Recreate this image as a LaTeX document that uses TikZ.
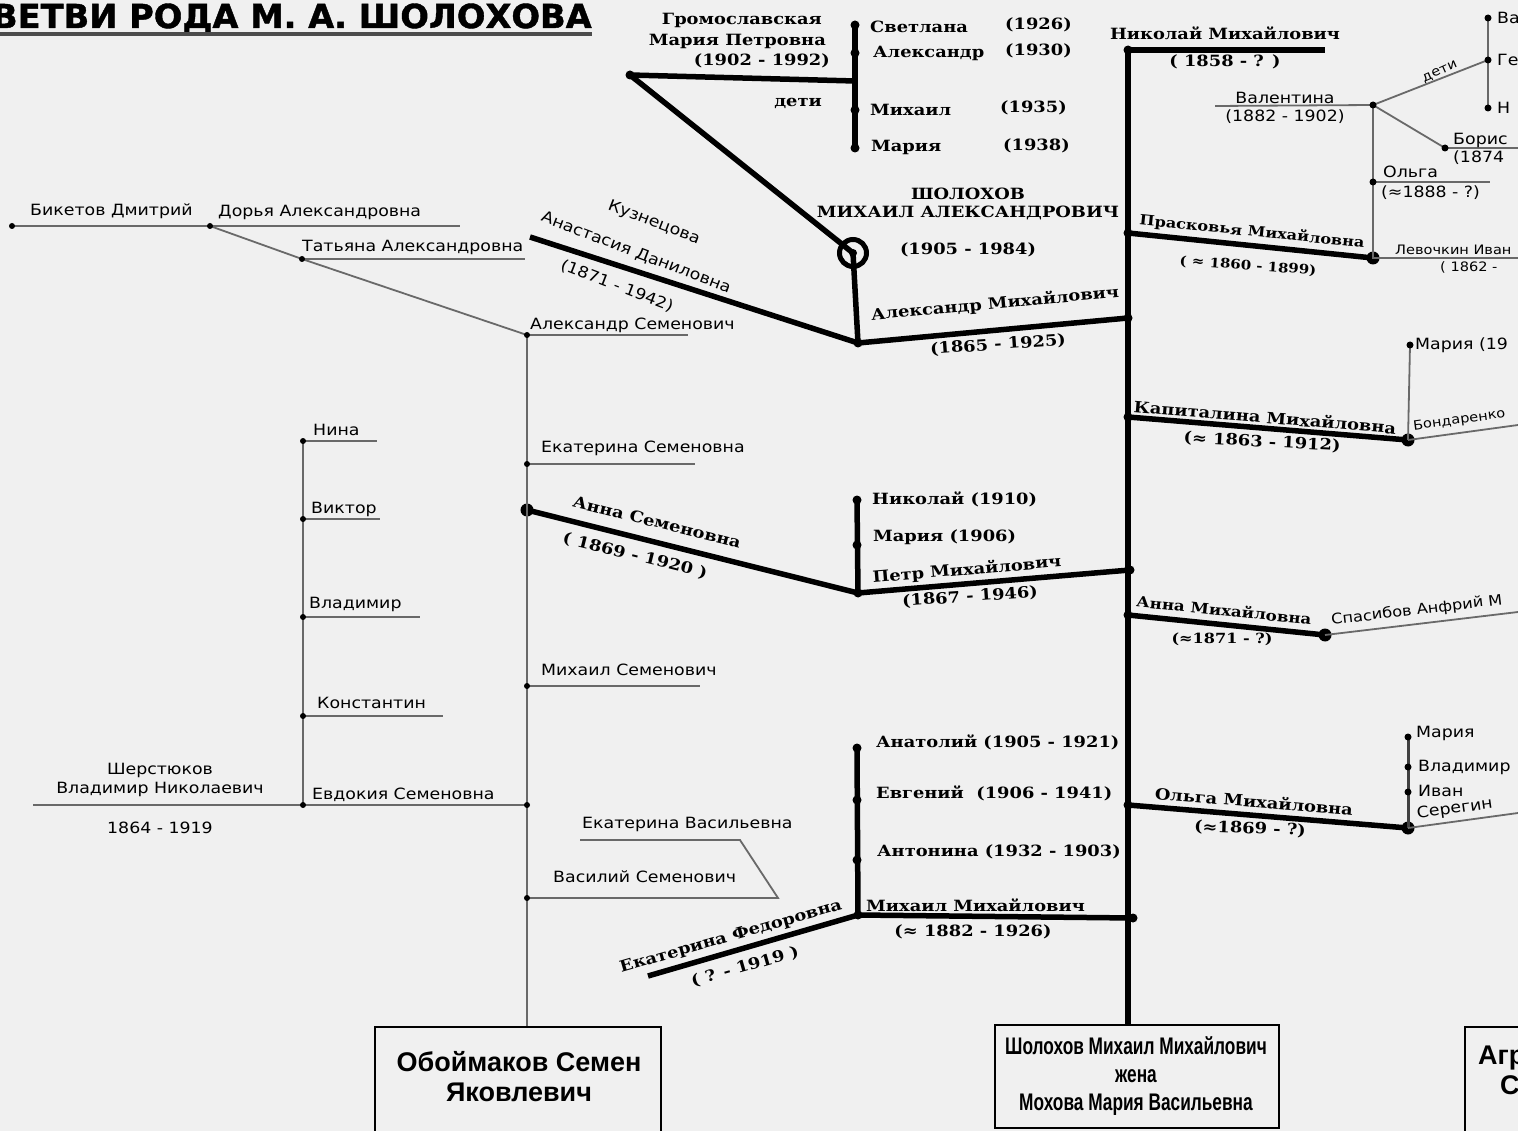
\documentclass[tikz,border=0pt]{standalone}
\usepackage{fontspec}
\setmainfont{DejaVu Serif}
\newfontfamily\srf[FakeStretch=1.15]{DejaVu Serif}
\newfontfamily\snf[FakeStretch=1.12]{DejaVu Sans}
\newfontfamily\bxf[FakeStretch=0.72]{Liberation Sans}
\newfontfamily\obf{Liberation Sans}
\newfontfamily\ttlf[FakeStretch=1.02,FakeBold=1.2]{DejaVu Sans}
\definecolor{bg}{RGB}{240,240,240}
\definecolor{thin}{RGB}{105,105,105}
\begin{document}
\begin{tikzpicture}[x=1pt,y=-1pt,
  thk/.style={line width=5.5pt},
  thn/.style={line width=1.8pt, draw=thin},
  sbs/.style={font=\srf\bfseries\fontsize{15.5}{17}\selectfont, inner sep=0pt},
  sn/.style={font=\snf\fontsize{15.5}{17}\selectfont, inner sep=0pt},
  sns/.style={font=\snf\fontsize{13}{15}\selectfont, inner sep=0pt},
  bx/.style={font=\bxf\bfseries\fontsize{24}{26}\selectfont, inner sep=0pt},
  ob/.style={font=\obf\bfseries\fontsize{27}{30}\selectfont, inner sep=0pt},
  boxln/.style={line width=2.5pt},
]
\clip (0,0) rectangle (1518,1131);
\fill[bg] (0,0) rectangle (1518,1131);

% ---------------- title
\node[anchor=base east, font=\ttlf\bfseries\fontsize{33}{36}\selectfont, inner sep=0pt] (title) at (592,28) {ВЕТВИ РОДА М. А. ШОЛОХОВА};
\coordinate (tl0) at (0,34);
\coordinate (tl1) at (592,34);
\draw[line width=3.5pt, draw=black!70] (tl0) -- (tl1);

% ---------------- coordinates Sholokhov side
\coordinate (gm) at (630,75);
\coordinate (gv) at (855,81);
\coordinate (c1) at (855,25);
\coordinate (c2) at (855,53);
\coordinate (c3) at (855,110);
\coordinate (c4) at (855,148);
\coordinate (ms) at (853,253);
\coordinate (am) at (858,343);
\coordinate (tr1) at (1128,318);
\coordinate (ku) at (530,237);
\coordinate (tTop) at (1128,50);
\coordinate (tBot) at (1128,1025);
\coordinate (nm) at (1325,50);
\coordinate (pr0) at (1128,233);
\coordinate (pr1) at (1373,258);
\coordinate (kp0) at (1128,417);
\coordinate (kp1) at (1408,440);
\coordinate (pm0) at (1130,570);
\coordinate (pm) at (858,593);
\coordinate (am0) at (1128,615);
\coordinate (am1) at (1325,635);
\coordinate (om0) at (1128,805);
\coordinate (om1) at (1408,828);
\coordinate (mm0) at (1133,918);
\coordinate (mm) at (858,915);
\coordinate (pc1) at (857,500);
\coordinate (pc2) at (857,545);
\coordinate (mc1) at (857,748);
\coordinate (mc2) at (857,800);
\coordinate (mc3) at (857,860);
\coordinate (ef) at (648,976);
\coordinate (as0) at (527,510);

% thick lines
\draw[thk] (gm) -- (gv);
\draw[thk] (c1) -- (c4);
\draw[thk] (gm) -- (ms);
\draw[thk] (ms) -- (am);
\draw[thk] (ku) -- (am) -- (tr1);
\draw[thk] (tTop) -- (tBot);
\draw[thk] (tTop) -- (nm);
\draw[thk] (pr0) -- (pr1);
\draw[thk] (kp0) -- (kp1);
\draw[thk] (as0) -- (pm) -- (pm0);
\draw[thk] (pc1) -- (pm);
\draw[thk] (am0) -- (am1);
\draw[thk] (om0) -- (om1);
\draw[thk] (ef) -- (mm) -- (mm0);
\draw[thk] (mc1) -- (mm);
\foreach \p in {gm,c1,c2,c3,c4,pc1,pc2,mc1,mc2,mc3,tTop,pr0,kp0,am0,om0,mm0,pm0,tr1,am,pm,mm}
  \fill (\p) circle (4.5);
\foreach \p in {pr1,kp1,am1,om1,as0}
  \fill (\p) circle (6.5);
\draw[line width=5pt] (ms) circle (13.5);
\fill (ms) circle (4);

% ---------------- right thin side
\coordinate (vl) at (1373,105);
\coordinate (vlL) at (1215,106);
\coordinate (dt) at (1488,60);
\coordinate (b1) at (1488,18);
\coordinate (b3) at (1488,108);
\coordinate (bo) at (1445,148);
\coordinate (boR) at (1518,148);
\coordinate (ol) at (1373,182);
\coordinate (olR) at (1490,182);
\coordinate (lvR) at (1518,258);
\coordinate (km) at (1410,345);
\coordinate (bdR) at (1518,425);
\coordinate (spR) at (1518,612);
\coordinate (oc1) at (1408,737);
\coordinate (oc2) at (1408,767);
\coordinate (oc3) at (1408,792);
\coordinate (srR) at (1518,813);

\draw[thn] (vlL) -- (vl) -- (pr1) -- (lvR);
\draw[thn] (vl) -- (dt);
\draw[thn] (b1) -- (b3);
\draw[thn] (vl) -- (bo) -- (boR);
\draw[thn] (ol) -- (olR);
\draw[thn] (kp1) -- (km);
\draw[thn] (kp1) -- (bdR);
\draw[thn] (am1) -- (spR);
\draw[thn, line width=3pt, draw=black!75] (oc1) -- (om1);
\draw[thn] (om1) -- (srR);
\foreach \p in {vl,dt,b1,b3,bo,ol,km,oc1,oc2,oc3}
  \fill (\p) circle (3.5);

% ---------------- left thin side (Obojmakov)
\coordinate (obT) at (527,335);
\coordinate (obB) at (527,1027);
\coordinate (asR) at (688,335);
\coordinate (tA) at (302,259);
\coordinate (tAR) at (525,259);
\coordinate (dA) at (210,226);
\coordinate (dAR) at (460,226);
\coordinate (bk) at (12,226);
\coordinate (es) at (527,464);
\coordinate (esR) at (695,464);
\coordinate (msm) at (527,686);
\coordinate (msR) at (700,686);
\coordinate (ev) at (527,805);
\coordinate (sh) at (33,805);
\coordinate (evj) at (303,805);
\coordinate (n1) at (303,441);
\coordinate (n1R) at (377,441);
\coordinate (v1) at (303,519);
\coordinate (v1R) at (380,519);
\coordinate (w1) at (303,617);
\coordinate (w1R) at (420,617);
\coordinate (k1) at (303,716);
\coordinate (k1R) at (443,716);
\coordinate (vs) at (527,898);
\coordinate (vsR) at (778,898);
\coordinate (ekL) at (580,840);
\coordinate (ekR) at (740,840);

\draw[thn] (obT) -- (obB);
\draw[thn] (obT) -- (asR);
\draw[thn] (obT) -- (tA) -- (dA);
\draw[thn] (tA) -- (tAR);
\draw[thn] (bk) -- (dA) -- (dAR);
\draw[thn] (es) -- (esR);
\draw[thn] (msm) -- (msR);
\draw[thn] (sh) -- (ev);
\draw[thn] (n1) -- (evj);
\draw[thn] (n1) -- (n1R);
\draw[thn] (v1) -- (v1R);
\draw[thn] (w1) -- (w1R);
\draw[thn] (k1) -- (k1R);
\draw[thn] (vs) -- (vsR) -- (ekR) -- (ekL);
\foreach \p in {obT,tA,dA,bk,es,msm,ev,evj,n1,v1,w1,k1,vs}
  \fill (\p) circle (3);

% ---------------- boxes
\draw[boxln] (375,1027) rectangle (661,1145);
\draw[boxln] (995,1025) rectangle (1279,1128);
\draw[boxln] (1465,1027) rectangle (1540,1145);
\node[ob] (obo1) at (519,1062) {Обоймаков Семен};
\node[ob] (obo2) at (519,1092) {Яковлевич};
\node[bx] (sho1) at (1136,1046) {Шолохов Михаил Михайлович};
\node[bx] (sho2) at (1136,1076) {жена};
\node[bx] (sho3) at (1136,1105) {Мохова Мария Васильевна};
\node[ob, anchor=west] (agr1) at (1478,1058) {Агр};
\node[ob, anchor=west] (agr2) at (1500,1085) {С};

% ---------------- serif texts
\node[sbs, anchor=east] (t1) at (822,20) {Громославская};
\node[sbs, anchor=east] (t2) at (826,41) {Мария Петровна};
\node[sbs, anchor=east] (t3) at (830,61) {(1902 - 1992)};
\node[sbs, anchor=east] (t4) at (822,103) {дети};
\node[sbs, anchor=west] (t5) at (870,27) {Светлана};
\node[sbs, anchor=west] (t6) at (1005,25) {(1926)};
\node[sbs, anchor=west] (t7) at (873,53) {Александр};
\node[sbs, anchor=west] (t8) at (1005,51) {(1930)};
\node[sbs, anchor=west] (t9) at (870,110) {Михаил};
\node[sbs, anchor=west] (t10) at (1000,108) {(1935)};
\node[sbs, anchor=west] (t11) at (871,147) {Мария};
\node[sbs, anchor=west] (t12) at (1003,146) {(1938)};
\node[sbs] (t13) at (968,194) {ШОЛОХОВ};
\node[sbs] (t14) at (968,213) {МИХАИЛ АЛЕКСАНДРОВИЧ};
\node[sbs] (t15) at (968,250) {(1905 - 1984)};
\node[sbs, rotate=5.3] (t16) at (995,304) {Александр Михайлович};
\node[sbs, rotate=4] (t17) at (998,345) {(1865 - 1925)};
\node[sn, rotate=-21] (t18) at (654,223) {Кузнецова};
\node[sn, rotate=-21] (t19) at (636,253) {Анастасия Даниловна};
\node[sn, rotate=-21] (t20) at (617,286) {(1871 - 1942)};
\node[sbs] (t21) at (1225,33) {Николай Михайлович};
\node[sbs] (t22) at (1225,62) {( 1858 - ? )};
\node[sbs, rotate=-5.8, font=\srf\bfseries\fontsize{14}{16}\selectfont] (t23) at (1252,232) {Прасковья Михайловна};
\node[sbs, rotate=-4, font=\srf\bfseries\fontsize{13}{15}\selectfont] (t24) at (1248,266) {( ≈ 1860 - 1899)};
\node[sbs, rotate=-4.7] (t25) at (1265,417) {Капиталина Михайловна};
\node[sbs, rotate=-3] (t26) at (1262,442) {(≈ 1863 - 1912)};
\node[sbs, anchor=west] (t27) at (872,499) {Николай (1910)};
\node[sbs, anchor=west] (t28) at (873,537) {Мария (1906)};
\node[sbs, rotate=4.8] (t29) at (967,570) {Петр Михайлович};
\node[sbs, rotate=4] (t30) at (970,597) {(1867 - 1946)};
\node[sbs, rotate=-14] (t31) at (657,522) {Анна Семеновна};
\node[sbs, rotate=-14] (t32) at (635,556) {( 1869 - 1920 )};
\node[sbs, rotate=-5.8, font=\srf\bfseries\fontsize{14.5}{16}\selectfont] (t33) at (1224,610) {Анна Михайловна};
\node[sbs, font=\srf\bfseries\fontsize{14}{16}\selectfont] (t34) at (1222,639) {(≈1871 - ?)};
\node[sbs, rotate=-4.7] (t35) at (1254,801) {Ольга Михайловна};
\node[sbs, rotate=-2] (t36) at (1250,829) {(≈1869 - ?)};
\node[sbs, anchor=west] (t37) at (876,742) {Анатолий (1905 - 1921)};
\node[sbs, anchor=west] (t38) at (876,793) {Евгений\ \ (1906 - 1941)};
\node[sbs, anchor=west] (t39) at (877,852) {Антонина (1932 - 1903)};
\node[sbs, anchor=west] (t40) at (866,905) {Михаил Михайлович};
\node[sbs] (t41) at (973,932) {(≈ 1882 - 1926)};
\node[sbs, rotate=16] (t42) at (731,937) {Екатерина Федоровна};
\node[sbs, rotate=16] (t43) at (745,967) {( ? - 1919 )};

% ---------------- sans texts right
\node[sn] (r1) at (1285,98) {Валентина};
\node[sn] (r2) at (1285,117) {(1882 - 1902)};
\node[sns, rotate=24] (r3) at (1440,72) {дети};
\node[sn, anchor=west] (r4) at (1497,18) {Ва};
\node[sn, anchor=west] (r5) at (1497,60) {Ге};
\node[sn, anchor=west] (r6) at (1497,108) {Н};
\node[sn, anchor=west] (r7) at (1453,140) {Борис};
\node[sn, anchor=west] (r8) at (1453,158) {(1874};
\node[sn, anchor=west] (r9) at (1383,172) {Ольга};
\node[sn, anchor=west] (r10) at (1381,193) {(≈1888 - ?)};
\node[sns, anchor=west] (r11) at (1395,250) {Левочкин Иван};
\node[sns, anchor=west] (r12) at (1440,267) {( 1862 -};
\node[sn, anchor=west] (r13) at (1415,345) {Мария (19};
\node[sns, rotate=7.8, anchor=south west] (r14) at (1414,433) {Бондаренко};
\node[sns, font=\snf\fontsize{14.5}{16}\selectfont, rotate=6.8, anchor=south west] (r15) at (1332,628) {Спасибов Анфрий М};
\node[sn, anchor=west] (r16) at (1416,733) {Мария};
\node[sn, anchor=west] (r17) at (1418,767) {Владимир};
\node[sn, anchor=west] (r18) at (1418,791) {Иван};
\node[sn, rotate=8, anchor=south west] (r19) at (1418,822) {Серегин};

% ---------------- sans texts left
\node[sn, anchor=west] (l1) at (30,211) {Бикетов Дмитрий};
\node[sn, anchor=west] (l2) at (218,212) {Дорья Александровна};
\node[sn, anchor=west] (l3) at (302,247) {Татьяна Александровна};
\node[sn, anchor=west] (l4) at (530,325) {Александр Семенович};
\node[sn, anchor=west] (l5) at (541,448) {Екатерина Семеновна};
\node[sn, anchor=west] (l6) at (541,670) {Михаил Семенович};
\node[sn, anchor=west] (l7) at (313,430) {Нина};
\node[sn, anchor=west] (l8) at (311,509) {Виктор};
\node[sn, anchor=west] (l9) at (309,604) {Владимир};
\node[sn, anchor=west] (l10) at (317,703) {Константин};
\node[sn, anchor=west] (l11) at (312,795) {Евдокия Семеновна};
\node[sn] (l12) at (160,770) {Шерстюков};
\node[sn] (l13) at (160,789) {Владимир Николаевич};
\node[sn] (l14) at (160,828) {1864 - 1919};
\node[sn, anchor=west] (l15) at (582,824) {Екатерина Васильевна};
\node[sn, anchor=west] (l16) at (553,877) {Василий Семенович};
\end{tikzpicture}
\end{document}
